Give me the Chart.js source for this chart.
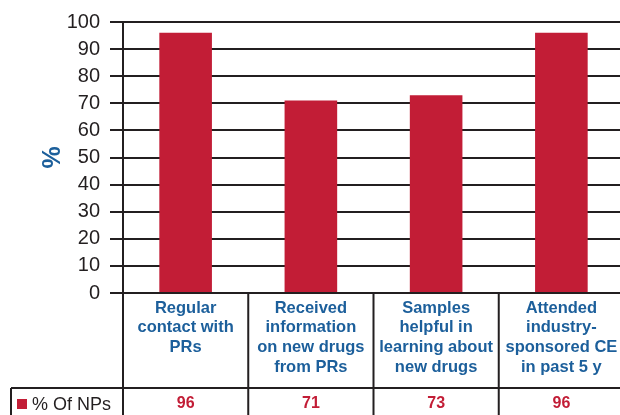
<!DOCTYPE html>
<html>
<head>
<meta charset="utf-8">
<script src="https://cdn.jsdelivr.net/npm/chart.js@4"></script>
<style>
  html, body { margin: 0; padding: 0; background: #fff; overflow: hidden; }
  #wrap { width: 624px; height: 415px; }
</style>
</head>
<body>
<div id="wrap"><canvas id="chart"></canvas></div>
<script>
// values
const categories = [
  ["Regular", "contact with", "PRs"],
  ["Received", "information", "on new drugs", "from PRs"],
  ["Samples", "helpful in", "learning about", "new drugs"],
  ["Attended", "industry-", "sponsored CE", "in past 5 y"]
];
const seriesLabel = "% Of NPs";
const npValues = [96, 71, 73, 96];
const yTitle = "%";

const ink = "#231f20";
const blue = "#1c5f9b";
const red = "#c21d36";

// data table under the x axis (row of values + legend key)
const tablePlugin = {
  id: "dataTable",
  afterDraw(chart) {
    const ctx = chart.ctx;
    const x = chart.scales.x;
    const area = chart.chartArea;
    const bottom = chart.height;
    const rowTop = 388;
    const rowMid = 404;

    ctx.save();
    ctx.strokeStyle = ink;
    ctx.lineWidth = 2;
    ctx.beginPath();
    // column separators
    for (let i = 0; i < categories.length; i++) {
      const left = i === 0 ? area.left : (x.getPixelForValue(i - 1) + x.getPixelForValue(i)) / 2;
      ctx.moveTo(left, area.bottom);
      ctx.lineTo(left, bottom);
    }
    // row line and legend cell border
    ctx.moveTo(11, rowTop);
    ctx.lineTo(chart.width, rowTop);
    ctx.moveTo(11, rowTop);
    ctx.lineTo(11, bottom);
    ctx.stroke();

    // legend key
    ctx.fillStyle = red;
    ctx.fillRect(17, 399, 10, 10);
    ctx.fillStyle = ink;
    ctx.font = "18px 'Liberation Sans', Arial, sans-serif";
    ctx.textAlign = "left";
    ctx.textBaseline = "alphabetic";
    ctx.fillText(seriesLabel, 32, 410);

    // values
    ctx.fillStyle = red;
    ctx.font = "bold 16px 'Liberation Sans', Arial, sans-serif";
    ctx.textAlign = "center";
    ctx.textBaseline = "middle";
    npValues.forEach((v, i) => {
      ctx.fillText(String(v), x.getPixelForValue(i), rowMid);
    });
    ctx.restore();
  }
};

new Chart(document.getElementById("chart"), {
  type: "bar",
  data: {
    labels: categories,
    datasets: [{
      label: seriesLabel,
      data: npValues,
      backgroundColor: red,
      barPercentage: 0.42,
      categoryPercentage: 1
    }]
  },
  options: {
    responsive: true,
    maintainAspectRatio: false,
    animation: false,
    layout: { padding: { top: 17, right: 0, bottom: 0, left: 0 } },
    plugins: {
      legend: { display: false },
      tooltip: { enabled: false }
    },
    scales: {
      x: {
        grid: { display: false, drawTicks: false },
        border: { display: true, color: ink, width: 2 },
        ticks: {
          color: blue,
          padding: 5,
          maxRotation: 0,
          autoSkip: false,
          font: { family: "'Liberation Sans', Arial, sans-serif", size: 16.5, weight: "bold", lineHeight: 1.21 }
        },
        afterFit(scale) { scale.height = 122; }
      },
      y: {
        min: 0,
        max: 100,
        ticks: {
          stepSize: 10,
          color: ink,
          padding: 10,
          font: { family: "'Liberation Sans', Arial, sans-serif", size: 20 }
        },
        grid: { color: ink, lineWidth: 2, tickLength: 13 },
        border: { display: true, color: ink, width: 2 },
        title: {
          display: true,
          text: yTitle,
          color: blue,
          padding: { top: 38, bottom: 0 },
          font: { family: "'Liberation Sans', Arial, sans-serif", size: 25, weight: "bold" }
        },
        afterFit(scale) { scale.width = 123; }
      }
    }
  },
  plugins: [tablePlugin]
});
</script>
</body>
</html>
